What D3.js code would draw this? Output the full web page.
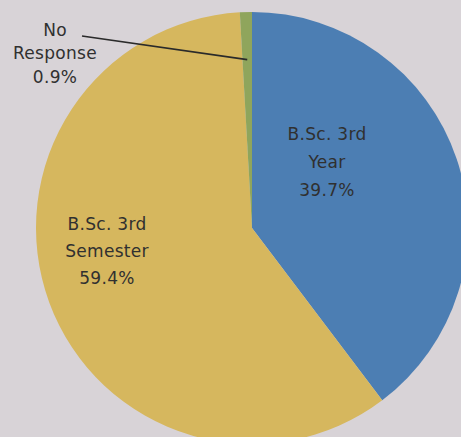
<!DOCTYPE html>
<html>
<head>
<meta charset="utf-8">
<script src="https://cdn.jsdelivr.net/npm/d3@7"></script>
<style>
  html, body { margin: 0; padding: 0; background: #d8d3d7; }
  svg { display: block; }
</style>
</head>
<body>
<svg id="chart" width="461" height="437"></svg>
<script>
// Survey responses by course format
const categories = ["B.Sc. 3rd Year", "B.Sc. 3rd Semester", "No Response"];
const labelLines = [["B.Sc. 3rd", "Year"], ["B.Sc. 3rd", "Semester"], ["No", "Response"]];
const values = [39.7, 59.4, 0.9];
const colors = ["#4c7eb3", "#d6b75e", "#8fa55c"];

const width = 461, height = 437;
const cx = 252, cy = 228, radius = 216;

const svg = d3.select("#chart");
svg.append("rect").attr("width", width).attr("height", height).attr("fill", "#d8d3d7");

const pie = d3.pie().sort(null).startAngle(0).endAngle(2 * Math.PI);
const arcs = pie(values);
const arc = d3.arc().innerRadius(0).outerRadius(radius);

const g = svg.append("g").attr("transform", `translate(${cx},${cy})`);
g.selectAll("path.slice")
  .data(arcs)
  .join("path")
  .attr("class", "slice")
  .attr("d", arc)
  .attr("fill", (d, i) => colors[i]);

// Label anchors (relative to pie centre) and line spacing; the small slice gets an outside label
const labelPos = [[75, -66], [-145, 23], [-197, -175]];
const lineHeights = [28, 27, 23.5];

// leader line for the outside label
const small = arcs[2];
const mid = (small.startAngle + small.endAngle) / 2;
const endPt = [Math.sin(mid) * radius * 0.78, -Math.cos(mid) * radius * 0.78];
g.append("line")
  .attr("x1", -170).attr("y1", -192)
  .attr("x2", endPt[0]).attr("y2", endPt[1])
  .attr("stroke", "#2a2a2a").attr("stroke-width", 1.6);

const fmt = v => d3.format(".1f")(v) + "%";
arcs.forEach((d, i) => {
  const lines = labelLines[i].concat([fmt(values[i])]);
  const t = g.append("text")
    .attr("text-anchor", "middle")
    .attr("font-family", "'DejaVu Sans', sans-serif")
    .attr("font-size", 17)
    .attr("letter-spacing", 0.3)
    .attr("fill", "#303030");
  lines.forEach((s, k) => {
    t.append("tspan")
      .attr("x", labelPos[i][0])
      .attr("y", labelPos[i][1] + (k - 1) * lineHeights[i] + 6)
      .text(s);
  });
});
</script>
</body>
</html>
